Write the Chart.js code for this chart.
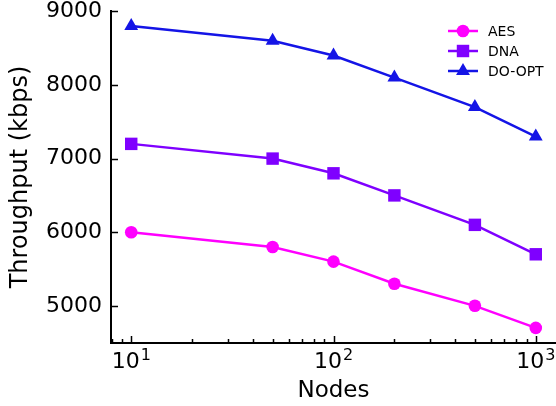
<!DOCTYPE html>
<html>
<head>
<meta charset="utf-8">
<title>Throughput vs Nodes</title>
<script src="https://cdn.jsdelivr.net/npm/chart.js@4.4.1/dist/chart.umd.min.js"></script>
<style>
    html, body { margin: 0; padding: 0; background: #fff; overflow: hidden; }
    #wrap { width: 556px; height: 406px; }
</style>
</head>
<body>
<div id="wrap"><canvas id="chart" width="556" height="406"></canvas></div>
<script>
// data
var nodes = [10, 50, 100, 200, 500, 1000];
var aes = [6000, 5800, 5600, 5300, 5000, 4700];
var dna = [7200, 7000, 6800, 6500, 6100, 5700];
var doOpt = [8800, 8600, 8400, 8100, 7700, 7300];

var yTicks = [5000, 6000, 7000, 8000, 9000];
var xMajor = [10, 100, 1000];
var xMinor = [8, 9, 20, 30, 40, 50, 60, 70, 80, 90, 200, 300, 400, 500, 600, 700, 800, 900];
var xExp = {10: '1', 100: '2', 1000: '3'};

var FONT = 'DejaVu Sans';
var TICK_SIZE = 22;

function points(ys) {
    return nodes.map(function(n, i) { return {x: n, y: ys[i]}; });
}

function series(label, ys, color, style, radius) {
    return {
        label: label,
        data: points(ys),
        borderColor: color,
        backgroundColor: color,
        borderWidth: 2.5,
        pointStyle: style,
        pointRadius: radius,
        pointHoverRadius: radius,
        pointBorderWidth: 0,
        tension: 0
    };
}

// inward tick marks + 10^n labels, matplotlib style
var tickMarks = {
    id: 'tickMarks',
    afterDraw: function(chart) {
        var ctx = chart.ctx, xs = chart.scales.x, ys = chart.scales.y;
        var area = chart.chartArea;
        ctx.save();
        ctx.strokeStyle = '#000';
        ctx.lineWidth = 1.5;
        ctx.beginPath();
        yTicks.forEach(function(v) {
            var py = Math.round(ys.getPixelForValue(v)) + 0.5;
            ctx.moveTo(area.left, py);
            ctx.lineTo(area.left + 7, py);
        });
        xMajor.forEach(function(v) {
            var px = Math.round(xs.getPixelForValue(v)) + 0.5;
            ctx.moveTo(px, area.bottom);
            ctx.lineTo(px, area.bottom - 7);
        });
        xMinor.forEach(function(v) {
            var px = Math.round(xs.getPixelForValue(v)) + 0.5;
            ctx.moveTo(px, area.bottom);
            ctx.lineTo(px, area.bottom - 4);
        });
        ctx.stroke();

        // x labels as 10 with a raised exponent
        ctx.fillStyle = '#000';
        ctx.textBaseline = 'alphabetic';
        ctx.textAlign = 'left';
        var baseFont = TICK_SIZE + 'px "' + FONT + '"';
        var expFont = Math.round(TICK_SIZE * 0.72) + 'px "' + FONT + '"';
        var base = area.bottom + 25;
        xMajor.forEach(function(v) {
            var px = xs.getPixelForValue(v);
            ctx.font = baseFont;
            var w1 = ctx.measureText('10').width;
            ctx.font = expFont;
            var w2 = ctx.measureText(xExp[v]).width;
            var x0 = px - (w1 + w2 + 1) / 2;
            ctx.font = baseFont;
            ctx.fillText('10', x0, base);
            ctx.font = expFont;
            ctx.fillText(xExp[v], x0 + w1 + 1, base - 8);
        });
        ctx.restore();
    }
};

// legend with line + marker handles
function drawMarker(ctx, style, x, y, r) {
    ctx.beginPath();
    if (style === 'circle') {
        ctx.arc(x, y, r, 0, Math.PI * 2);
    } else if (style === 'rect') {
        var s = r * Math.SQRT1_2;
        ctx.rect(x - s, y - s, 2 * s, 2 * s);
    } else {
        ctx.moveTo(x, y - r);
        ctx.lineTo(x + r * Math.sin(2 * Math.PI / 3), y - r * Math.cos(2 * Math.PI / 3));
        ctx.lineTo(x + r * Math.sin(4 * Math.PI / 3), y - r * Math.cos(4 * Math.PI / 3));
        ctx.closePath();
    }
    ctx.fill();
}

var lineLegend = {
    id: 'lineLegend',
    afterDraw: function(chart) {
        var ctx = chart.ctx;
        var x0 = 448, x1 = 478, tx = 488, y0 = 31, step = 20;
        ctx.save();
        chart.data.datasets.forEach(function(ds, i) {
            var y = y0 + i * step;
            ctx.strokeStyle = ds.borderColor;
            ctx.fillStyle = ds.backgroundColor;
            ctx.lineWidth = ds.borderWidth;
            ctx.beginPath();
            ctx.moveTo(x0, y);
            ctx.lineTo(x1, y);
            ctx.stroke();
            drawMarker(ctx, ds.pointStyle, (x0 + x1) / 2, y, ds.pointRadius);
            ctx.fillStyle = '#000';
            ctx.font = '14px "' + FONT + '"';
            ctx.textBaseline = 'middle';
            ctx.textAlign = 'left';
            ctx.fillText(ds.label, tx, y + 1);
        });
        ctx.restore();
    }
};

new Chart(document.getElementById('chart'), {
    type: 'line',
    data: {
        datasets: [
            series('AES', aes, '#ff00ff', 'circle', 6.3),
            series('DNA', dna, '#7f00ff', 'rect', 8.8),
            series('DO-OPT', doOpt, '#1414e6', 'triangle', 8)
        ]
    },
    options: {
        responsive: false,
        animation: false,
        devicePixelRatio: 1,
        layout: {autoPadding: false, padding: {top: 11, right: 0, bottom: 0, left: 0}},
        plugins: {
            legend: {display: false},
            tooltip: {enabled: false}
        },
        scales: {
            x: {
                type: 'logarithmic',
                position: 'bottom',
                min: Math.pow(10, 0.9),
                max: Math.pow(10, 3.1),
                afterBuildTicks: function(scale) {
                    scale.ticks = xMajor.map(function(v) { return {value: v}; });
                },
                afterFit: function(scale) {
                    scale.height = 63;
                    scale.paddingLeft = 0;
                    scale.paddingRight = 0;
                },
                grid: {display: false, drawTicks: false},
                border: {display: true, color: '#000', width: 2},
                ticks: {display: false},
                title: {
                    display: true,
                    text: 'Nodes',
                    color: '#000',
                    font: {family: FONT, size: 23},
                    padding: {top: 0, bottom: 1}
                }
            },
            y: {
                type: 'linear',
                min: 4495,
                max: 9005,
                afterBuildTicks: function(scale) {
                    scale.ticks = yTicks.map(function(v) { return {value: v}; });
                },
                afterFit: function(scale) {
                    scale.width = 111;
                    scale.paddingTop = 0;
                    scale.paddingBottom = 0;
                },
                grid: {display: false, drawTicks: false},
                border: {display: true, color: '#000', width: 2},
                ticks: {
                    padding: 9,
                    color: '#000',
                    font: {family: FONT, size: TICK_SIZE},
                    callback: function(v) { return String(v); }
                },
                title: {
                    display: true,
                    text: 'Throughput (kbps)',
                    color: '#000',
                    font: {family: FONT, size: 24},
                    padding: {top: 6, bottom: 0}
                }
            }
        }
    },
    plugins: [tickMarks, lineLegend]
});
</script>
</body>
</html>
